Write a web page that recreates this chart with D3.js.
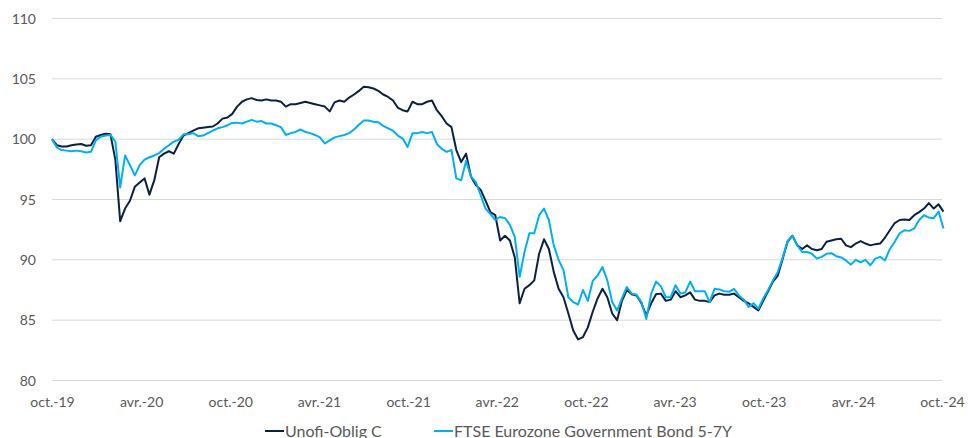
<!DOCTYPE html>
<html>
<head>
<meta charset="utf-8">
<script src="https://cdn.jsdelivr.net/npm/d3@7"></script>
<style>
  html, body { margin: 0; padding: 0; background: #fff; }
  svg { display: block; font-family: Lato, "Open Sans", sans-serif; }
</style>
</head>
<body>
<svg id="chart" width="968" height="438"></svg>
<script>
// ---- data (sampled every 10 days from 1 Oct 2019) ----
const startDate = "2019-10-01";
const stepDays = 10;

const unofiValues = [
  100.0, 99.5, 99.4, 99.4, 99.5, 99.55, 99.6, 99.45, 99.5, 100.2,
  100.35, 100.45, 100.4, 98.3, 93.2, 94.25, 94.9, 96.05, 96.4, 96.75,
  95.4, 96.6, 98.5, 98.8, 99.0, 98.8, 99.6, 100.3, 100.5, 100.7,
  100.9, 100.95, 101.0, 101.05, 101.3, 101.7, 101.8, 102.1, 102.7, 103.1,
  103.3, 103.4, 103.25, 103.2, 103.3, 103.2, 103.2, 103.1, 102.7, 102.9,
  102.9, 103.0, 103.1, 103.0, 102.9, 102.8, 102.7, 102.3, 103.05, 103.2,
  103.1, 103.45, 103.7, 104.0, 104.35, 104.3, 104.2, 104.0, 103.7, 103.5,
  103.2, 102.6, 102.4, 102.3, 103.1, 102.9, 102.9, 103.1, 103.2, 102.4,
  101.9, 101.3, 101.0, 99.1, 98.1, 98.8, 96.9, 96.2, 95.8, 94.9,
  93.95, 93.7, 91.6, 92.0, 91.6, 90.2, 86.4, 87.6, 87.9, 88.3,
  90.5, 91.7, 90.9, 89.0, 87.6, 86.9, 85.55, 84.15, 83.4, 83.6,
  84.4, 85.7, 86.8, 87.6, 86.9, 85.55, 85.0, 86.6, 87.5, 87.15,
  87.05, 86.4, 85.4, 86.4, 87.15, 87.2, 86.6, 86.7, 87.4, 86.9,
  87.05, 87.3, 86.7, 86.6, 86.6, 86.5, 87.05, 87.2, 87.1, 87.1,
  87.2, 86.9, 86.6, 86.4, 86.1, 85.8, 86.6, 87.4, 88.2, 88.7,
  90.1, 91.5, 92.0, 91.2, 90.9, 91.2, 90.9, 90.8, 90.9, 91.5,
  91.6, 91.7, 91.75, 91.2, 91.05, 91.35, 91.55, 91.35, 91.2, 91.3,
  91.35, 91.85, 92.45, 93.05, 93.3, 93.35, 93.3, 93.7, 93.95, 94.25,
  94.7, 94.25, 94.6, 94.0
];

const ftseValues = [
  100.0, 99.3, 99.1, 99.05, 99.0, 99.05, 99.0, 98.9, 98.95, 99.9,
  100.2, 100.3, 100.35, 99.8, 96.0, 98.65, 97.85, 97.0, 97.85, 98.3,
  98.5, 98.65, 98.85, 99.2, 99.5, 99.8, 99.95, 100.4, 100.4, 100.5,
  100.25, 100.3, 100.5, 100.7, 100.9, 101.0, 101.15, 101.35, 101.37, 101.3,
  101.45, 101.6, 101.45, 101.5, 101.3, 101.3, 101.15, 101.0, 100.35, 100.5,
  100.6, 100.8, 100.6, 100.5, 100.35, 100.15, 99.65, 99.9, 100.15, 100.25,
  100.35, 100.5, 100.8, 101.2, 101.55, 101.55, 101.45, 101.4, 101.1, 100.9,
  100.7, 100.3, 100.05, 99.35, 100.5, 100.5, 100.6, 100.5, 100.6, 99.6,
  99.2, 98.95, 99.1, 96.75, 96.6, 98.2, 96.9, 96.45, 95.35, 94.25,
  93.8, 93.3, 93.55, 93.45, 92.9, 91.9, 88.6, 90.65, 92.2, 92.2,
  93.7, 94.25, 93.3, 91.2, 90.0, 89.15, 86.9, 86.5, 86.3, 87.5,
  86.6, 88.25, 88.7, 89.4, 88.3, 86.5, 85.8, 86.8, 87.75, 87.2,
  87.1, 86.5, 85.1, 87.2, 88.2, 87.8, 86.9, 86.9, 87.9, 87.2,
  87.3, 88.2, 87.4, 87.4, 87.4, 86.5, 87.6, 87.55, 87.4, 87.35,
  87.6, 87.05, 86.7, 86.1, 86.4, 85.95, 86.8, 87.5, 88.3, 89.0,
  90.2, 91.55, 92.0, 91.2, 90.65, 90.65, 90.5, 90.1, 90.25, 90.5,
  90.55, 90.3, 90.2, 89.95, 89.6, 90.0, 89.8, 90.0, 89.55, 90.1,
  90.25, 89.95, 90.9, 91.5, 92.2, 92.45, 92.4, 92.6, 93.3, 93.7,
  93.5, 93.45, 94.0, 92.6
];

const seriesNames = ["Unofi-Oblig C", "FTSE Eurozone Government Bond 5-7Y"];
const seriesColors = ["#0b2141", "#00b0f0"];

const yTicks = [80, 85, 90, 95, 100, 105, 110];
const xTickDates = ["2019-10-01","2020-04-01","2020-10-01","2021-04-01","2021-10-01","2022-04-01",
                    "2022-10-01","2023-04-01","2023-10-01","2024-04-01","2024-10-01"];
const xTickLabels = ["oct.-19","avr.-20","oct.-20","avr.-21","oct.-21","avr.-22",
                     "oct.-22","avr.-23","oct.-23","avr.-24","oct.-24"];

// ---- layout ----
const svg = d3.select("#chart");
const parse = d3.utcParse("%Y-%m-%d");
const start = parse(startDate);
const dates = unofiValues.map((_, i) => d3.utcDay.offset(start, i * stepDays));

const x = d3.scaleUtc()
  .domain([parse("2019-10-01"), parse("2024-10-01")])
  .range([52, 942]);
const y = d3.scaleLinear().domain([80, 110]).range([380.5, 18.5]);

const textColor = "#595959";

// gridlines
svg.append("g").selectAll("line").data(yTicks).join("line")
  .attr("x1", 52).attr("x2", 942)
  .attr("y1", d => y(d)).attr("y2", d => y(d))
  .attr("stroke", "#d9d9d9").attr("stroke-width", 1);

// y labels
svg.append("g").selectAll("text").data(yTicks).join("text")
  .attr("x", 36).attr("y", d => y(d))
  .attr("dy", "0.36em")
  .attr("text-anchor", "end")
  .attr("font-size", 14)
  .attr("fill", textColor)
  .text(d => d);

// x labels
const xAxis = d3.axisBottom(x)
  .tickValues(xTickDates.map(parse))
  .tickFormat((d, i) => xTickLabels[i])
  .tickSize(0).tickPadding(0);
const gx = svg.append("g").attr("transform", "translate(0,397)").call(xAxis);
gx.select(".domain").remove();
gx.selectAll("text").attr("font-size", 14).attr("fill", textColor)
  .attr("font-family", "Lato, 'Open Sans', sans-serif");

// lines
const line = d3.line().x((d, i) => x(dates[i])).y(d => y(d));
[unofiValues, ftseValues].forEach((vals, k) => {
  svg.append("path")
    .datum(vals)
    .attr("d", line)
    .attr("fill", "none")
    .attr("stroke", seriesColors[k])
    .attr("stroke-width", 2)
    .attr("stroke-linejoin", "round");
});
// draw dark on top? in reference light mostly drawn above dark
svg.selectAll("path").filter((d, i) => i === 1).raise();

// legend
const legendX = [265, 434];
seriesNames.forEach((name, k) => {
  const g = svg.append("g").attr("transform", `translate(${legendX[k]},0)`);
  g.append("line").attr("x1", 0).attr("x2", 19).attr("y1", 431).attr("y2", 431)
    .attr("stroke", seriesColors[k]).attr("stroke-width", 2);
  g.append("text").attr("x", 20).attr("y", 436.5)
    .attr("font-size", 16).attr("fill", textColor).text(name);
});
</script>
</body>
</html>
